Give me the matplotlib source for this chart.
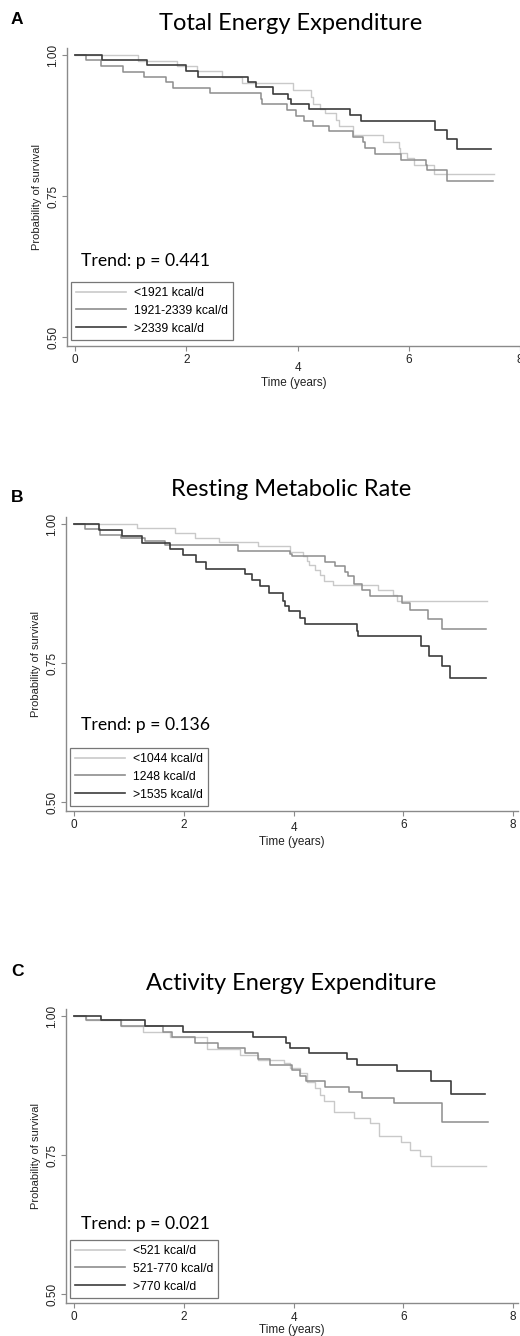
import matplotlib
matplotlib.use("Agg")
import matplotlib.pyplot as plt
from matplotlib.transforms import ScaledTranslation

# ---------------- data ----------------
panel_letters = ["A", "B", "C"]
panel_titles = ["Total Energy Expenditure", "Resting Metabolic Rate", "Activity Energy Expenditure"]
trend_texts = ["Trend: p = 0.441", "Trend: p = 0.136", "Trend: p = 0.021"]
legend_A = ["<1921 kcal/d", "1921-2339 kcal/d", ">2339 kcal/d"]
legend_B = ["<1044 kcal/d", "1248 kcal/d", ">1535 kcal/d"]
legend_C = ["<521 kcal/d", "521-770 kcal/d", ">770 kcal/d"]
x_ticks = [0, 2, 4, 6, 8]
y_ticks = [0.50, 0.75, 1.00]
y_tick_labels = ["0.50", "0.75", "1.00"]

# Panel A
A_low_t = [0, 1.14, 1.83, 2.20, 2.65, 3.01, 3.92, 4.25, 4.28, 4.40, 4.50, 4.70, 4.74, 5.00, 5.54, 5.82, 5.84, 5.96, 6.10, 6.46, 7.54]
A_low_s = [1.0, 0.990, 0.981, 0.972, 0.962, 0.950, 0.939, 0.926, 0.914, 0.905, 0.897, 0.885, 0.874, 0.859, 0.846, 0.836, 0.827, 0.817, 0.806, 0.789, 0.789]
A_mid_t = [0, 0.20, 0.46, 0.86, 1.24, 1.63, 1.77, 2.42, 3.34, 3.37, 3.82, 3.97, 4.12, 4.28, 4.56, 4.99, 5.17, 5.22, 5.39, 5.86, 6.31, 6.33, 6.69, 7.51]
A_mid_s = [1.0, 0.991, 0.981, 0.971, 0.962, 0.952, 0.942, 0.933, 0.922, 0.913, 0.903, 0.893, 0.884, 0.874, 0.865, 0.855, 0.846, 0.836, 0.825, 0.815, 0.806, 0.797, 0.777, 0.777]
A_high_t = [0, 0.49, 1.30, 1.99, 2.21, 3.11, 3.26, 3.56, 3.83, 3.89, 4.21, 4.95, 5.15, 6.47, 6.69, 6.87, 7.47]
A_high_s = [1.0, 0.991, 0.982, 0.972, 0.962, 0.953, 0.943, 0.932, 0.923, 0.914, 0.904, 0.894, 0.884, 0.868, 0.852, 0.834, 0.834]

# Panel B
B_low_t = [0, 1.14, 1.84, 2.20, 2.64, 3.35, 3.93, 4.17, 4.24, 4.29, 4.39, 4.48, 4.56, 4.72, 5.54, 5.82, 5.88, 7.52]
B_low_s = [1.0, 0.993, 0.984, 0.976, 0.968, 0.960, 0.950, 0.943, 0.934, 0.926, 0.918, 0.908, 0.898, 0.890, 0.882, 0.872, 0.862, 0.862]
B_mid_t = [0, 0.20, 0.47, 0.86, 1.29, 1.66, 2.99, 3.93, 3.98, 4.57, 4.75, 4.94, 5.00, 5.10, 5.24, 5.39, 5.97, 6.12, 6.45, 6.70, 7.50]
B_mid_s = [1.0, 0.991, 0.981, 0.975, 0.970, 0.962, 0.951, 0.946, 0.943, 0.932, 0.924, 0.914, 0.906, 0.892, 0.882, 0.871, 0.859, 0.846, 0.829, 0.811, 0.811]
B_high_t = [0, 0.46, 0.87, 1.23, 1.75, 1.98, 2.22, 2.41, 3.11, 3.25, 3.38, 3.56, 3.81, 3.84, 3.91, 4.11, 4.21, 5.15, 5.17, 6.33, 6.47, 6.70, 6.86, 7.50]
B_high_s = [1.0, 0.990, 0.979, 0.967, 0.955, 0.944, 0.932, 0.920, 0.911, 0.900, 0.889, 0.877, 0.862, 0.852, 0.843, 0.831, 0.820, 0.808, 0.799, 0.781, 0.763, 0.745, 0.724, 0.724]

# Panel C
C_low_t = [0, 0.22, 0.86, 1.25, 1.75, 2.42, 3.02, 3.36, 3.82, 3.94, 4.12, 4.25, 4.40, 4.49, 4.55, 4.73, 5.10, 5.40, 5.55, 5.95, 6.12, 6.31, 6.50, 7.50]
C_low_s = [1.0, 0.993, 0.983, 0.972, 0.963, 0.941, 0.930, 0.921, 0.916, 0.907, 0.897, 0.881, 0.871, 0.859, 0.847, 0.827, 0.817, 0.807, 0.785, 0.773, 0.760, 0.748, 0.731, 0.731]
C_mid_t = [0, 0.22, 0.86, 1.63, 1.78, 2.21, 2.63, 3.12, 3.36, 3.58, 3.97, 4.11, 4.23, 4.58, 5.01, 5.25, 5.83, 6.70, 7.54]
C_mid_s = [1.0, 0.993, 0.983, 0.972, 0.963, 0.952, 0.943, 0.933, 0.923, 0.913, 0.903, 0.893, 0.883, 0.873, 0.863, 0.853, 0.843, 0.810, 0.810]
C_high_t = [0, 0.49, 1.30, 1.98, 3.27, 3.87, 3.93, 4.29, 4.98, 5.16, 5.89, 6.50, 6.87, 7.48]
C_high_s = [1.0, 0.993, 0.983, 0.972, 0.962, 0.952, 0.943, 0.933, 0.923, 0.913, 0.902, 0.883, 0.860, 0.860]

# ---------------- style ----------------
W, H = 520, 1336
col_low, col_mid, col_high = "#c9c9c9", "#8d8d8d", "#3c3c3c"
axis_col = "#8a8a8a"
sans = ["Liberation Sans", "DejaVu Sans"]
calib = ["Lato", "DejaVu Sans"]


def fx(px):
    return px / W


def fy(py):
    return 1 - py / H


fig = plt.figure(figsize=(W / 100, H / 100), dpi=100)

panels = [
    dict(series=[(A_low_t, A_low_s), (A_mid_t, A_mid_s), (A_high_t, A_high_s)], labels=legend_A,
         box=(67, 48, 520, 346), xlim=(-0.144, 8.0), letter_y=20, title_y=24, trend_y=261,
         leg=(71, 282), xlabelpad=2.5, four_drop=8),
    dict(series=[(B_low_t, B_low_s), (B_mid_t, B_mid_s), (B_high_t, B_high_s)], labels=legend_B,
         box=(66, 517, 518, 811), xlim=(-0.146, 8.09), letter_y=497, title_y=489, trend_y=725,
         leg=(70, 748), xlabelpad=1.5, four_drop=3),
    dict(series=[(C_low_t, C_low_s), (C_mid_t, C_mid_s), (C_high_t, C_high_s)], labels=legend_C,
         box=(66, 1009, 518, 1303), xlim=(-0.146, 8.09), letter_y=972, title_y=984, trend_y=1224,
         leg=(70, 1240), xlabelpad=0.0, four_drop=1),
]

colors = [col_low, col_mid, col_high]
widths = [1.0, 1.1, 1.2]

for i, p in enumerate(panels):
    l, t, r, b = p["box"]
    ax = fig.add_axes([fx(l), fy(b), fx(r) - fx(l), fy(t) - fy(b)])
    handles = []
    for (tt, ss), c, lw, lab in zip(p["series"], colors, widths, p["labels"]):
        ln, = ax.step(tt, ss, where="post", color=c, lw=lw, label=lab)
        handles.append(ln)
    ax.set_xlim(*p["xlim"])
    ax.set_ylim(0.484, 1.013)
    for s in ["top", "right"]:
        ax.spines[s].set_visible(False)
    for s in ["left", "bottom"]:
        ax.spines[s].set_color(axis_col)
        ax.spines[s].set_linewidth(1.0)
    ax.set_xticks(x_ticks)
    ax.set_xticklabels([str(v) for v in x_ticks], fontsize=8.5, family=sans)
    ax.set_yticks(y_ticks)
    ax.set_yticklabels(y_tick_labels, fontsize=8.5, family=sans, rotation=90, va="center")
    ax.tick_params(axis="both", direction="out", length=3.5, width=0.8, color=axis_col, pad=2,
                   labelcolor="#222222")
    # the middle x tick label sits a little lower in the original
    lab4 = ax.get_xticklabels()[2]
    lab4.set_transform(lab4.get_transform() + ScaledTranslation(0, -p["four_drop"] / 100, fig.dpi_scale_trans))
    ax.set_xlabel("Time (years)", fontsize=8.5, family=sans, labelpad=p["xlabelpad"], color="#222222")
    ax.set_ylabel("Probability of survival", fontsize=8, family=sans, labelpad=4, color="#222222")

    fig.text(fx(17), fy(p["letter_y"]), panel_letters[i], fontsize=12.5, fontweight="bold",
             family=sans, ha="center", va="center")
    fig.text(fx(291), fy(p["title_y"]), panel_titles[i], fontsize=17, family=calib,
             ha="center", va="center")
    fig.text(fx(81), fy(p["trend_y"]), trend_texts[i], fontsize=12.7, family=calib,
             ha="left", va="center")

    lx, ly = p["leg"]
    leg = ax.legend(handles=handles, loc="upper left", bbox_to_anchor=(fx(lx), fy(ly)),
                    bbox_transform=fig.transFigure, frameon=True, fancybox=False,
                    prop={"family": sans, "size": 8.8}, handlelength=4.1, handletextpad=0.65,
                    labelspacing=0.48, borderpad=0.4, borderaxespad=0)
    leg.get_frame().set_edgecolor("#555555")
    leg.get_frame().set_linewidth(0.9)
    for lh in leg.get_lines():
        lh.set_linewidth(1.2)

fig.savefig("out.png", dpi=100)
